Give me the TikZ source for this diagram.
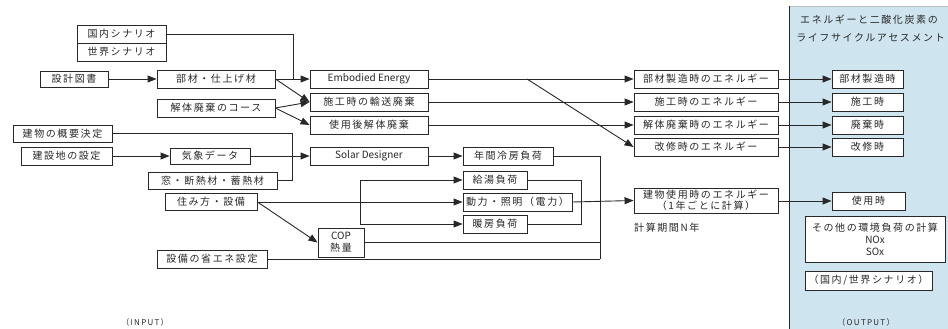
\documentclass[tikz,border=0pt]{standalone}
\usepackage{fontspec}
\setmainfont[LetterSpace=16]{Noto Sans CJK JP}
\newfontfamily\lat{Noto Sans CJK JP}
\usetikzlibrary{arrows.meta}
\definecolor{panel}{RGB}{206,228,238}
\definecolor{ink}{RGB}{40,40,40}
\tikzset{
  x=1pt, y=-1pt,
  box/.style={draw=ink, line width=0.9pt, fill=white, inner sep=0pt,
    font=\fontsize{10}{11}\selectfont, text=ink},
  ln/.style={draw=ink, line width=0.9pt},
  arr/.style={ln, -{Triangle[length=9pt,width=7pt]}},
  lbl/.style={inner sep=0pt, text=ink, font=\fontsize{10}{11}\selectfont}
}
\begin{document}
\begin{tikzpicture}
\useasboundingbox (0,0) rectangle (948,329);
\fill[white] (0,0) rectangle (948,329);
% output panel
\fill[panel] (789,6) rectangle (948,329);
\draw[black!25, line width=0.5pt] (789,6) -- (948,6);
\draw[ink, line width=1pt] (789,6) -- (789,329);
\node[lbl, anchor=east, font=\fontsize{10}{12}\selectfont] (t1) at (938,20) {エネルギーと二酸化炭素の};
\node[lbl, anchor=east, font=\fontsize{10}{12}\selectfont] (t2) at (945,38) {ライフサイクルアセスメント};

% input boxes
\node[box, minimum width=89pt, minimum height=18pt] (kokunai) at (121.5,34) {国内シナリオ};
\node[box, minimum width=89pt, minimum height=18pt] (sekai) at (121.5,52) {世界シナリオ};
\node[box, minimum width=68pt, minimum height=16pt] (sekkei) at (74,79) {設計図書};
\node[box, minimum width=118pt, minimum height=18pt] (buzai) at (216,79) {部材・仕上げ材};
\node[box, minimum width=118pt, minimum height=18pt] (kaitai) at (216,108) {解体廃棄のコース};
\node[box, minimum width=99pt, minimum height=17pt] (gaiyo) at (62.5,133.5) {建物の概要決定};
\node[box, minimum width=91pt, minimum height=18pt] (kensetsu) at (66.5,156) {建設地の設定};
\node[box, minimum width=80pt, minimum height=16pt] (kisho) at (210,156) {気象データ};
\node[box, minimum width=129pt, minimum height=17pt] (mado) at (212.5,180.5) {窓・断熱材・蓄熱材};
\node[box, minimum width=92pt, minimum height=17pt] (sumi) at (211,202) {住み方・設備};
\node[box, minimum width=110pt, minimum height=18pt] (shoene) at (212,259) {設備の省エネ設定};

% middle boxes
\node[box, minimum width=118pt, minimum height=18pt] (ee) at (369,79) {\lat Embodied Energy};
\node[box, minimum width=118pt, minimum height=18pt] (yuso) at (369,102) {施工時の輸送廃棄};
\node[box, minimum width=118pt, minimum height=18pt] (shiyogo) at (369,125) {使用後解体廃棄};
\node[box, minimum width=118pt, minimum height=18pt] (solar) at (369,156) {\lat Solar Designer};
\node[box, minimum width=90pt, minimum height=18pt] (reibo) at (508,156) {年間冷房負荷};
\node[box, minimum width=64pt, minimum height=18pt] (kyuto) at (495,180) {給湯負荷};
\node[box, minimum width=109pt, minimum height=18pt] (doryoku) at (517.5,202) {動力・照明（電力）};
\node[box, minimum width=64pt, minimum height=18pt] (danbo) at (495,224) {暖房負荷};
\node[box, minimum width=46pt, minimum height=29pt, align=center, font=\fontsize{10}{12}\selectfont] (cop) at (341,242.5) {\lat COP\\熱量};

% energy boxes
\node[box, minimum width=144pt, minimum height=18pt] (e1) at (706,79) {部材製造時のエネルギー};
\node[box, minimum width=144pt, minimum height=18pt] (e2) at (706,102) {施工時のエネルギー};
\node[box, minimum width=144pt, minimum height=18pt] (e3) at (706,125) {解体廃棄時のエネルギー};
\node[box, minimum width=144pt, minimum height=18pt] (e4) at (706,147) {改修時のエネルギー};
\node[box, minimum width=144pt, minimum height=25pt, align=center, font=\fontsize{10}{11}\selectfont] (e5) at (706,200.5) {建物使用時のエネルギー\\（1年ごとに計算）};
\node[lbl, anchor=west] (kikan) at (634,228) {計算期間N年};

% output boxes
\node[box, minimum width=71pt, minimum height=18pt] (o1) at (867.5,79) {部材製造時};
\node[box, minimum width=71pt, minimum height=18pt] (o2) at (867.5,102) {施工時};
\node[box, minimum width=71pt, minimum height=18pt] (o3) at (867.5,125) {廃棄時};
\node[box, minimum width=71pt, minimum height=18pt] (o4) at (867.5,147) {改修時};
\node[box, minimum width=73pt, minimum height=18pt] (o5) at (868.5,201) {使用時};
\node[box, minimum width=140pt, minimum height=46pt, align=center, font=\fontsize{10}{12}\selectfont] (other) at (875,239) {その他の環境負荷の計算\\{\lat NOx}\\{\lat SOx}};
\node[box, minimum width=127pt, minimum height=19pt] (scen2) at (868.5,280.5) {（国内/世界シナリオ）};

\node[lbl, font=\fontsize{8}{9}\selectfont] (inp) at (145,322) {（INPUT）};
\node[lbl, font=\fontsize{8}{9}\selectfont] (outp) at (866,322) {（OUTPUT）};

% junction coordinates
\coordinate (j1) at (293,79);
\coordinate (j2) at (292,180.5);
\coordinate (j3) at (600,259);
\coordinate (b1) at (360,180);
\coordinate (b2) at (360,224);
\coordinate (c1) at (581,180);
\coordinate (c2) at (581,224);
\coordinate (d1) at (527,79);

% connectors
\draw[ln] (kokunai.east) -| (j1);
\draw[arr] (sekkei) -- (buzai);
\draw[arr] (buzai.east) -- (ee.west);
\draw[arr] (buzai.east) -- (yuso.west);
\draw[arr] (kaitai.east) -- (yuso.west);
\draw[arr] (kaitai.east) -- (shiyogo.west);
\draw[ln] (gaiyo.east) -| (j2) -- (mado.east);
\draw[arr] (kensetsu) -- (kisho);
\draw[arr] (kisho) -- (solar);
\draw[arr] (solar) -- (reibo);
\draw[ln] (reibo.east) -| (j3);
\draw[ln] (shoene.east) -- (j3);
\draw[ln] (cop.east) -- (cop.east -| j3);
\draw[arr] (sumi.east) -- (doryoku.west);
\draw[arr] (sumi.east) -- (cop.west);
\draw[ln] (b1) -- (b2);
\draw[arr] (b1) -- (kyuto.west);
\draw[arr] (b2) -- (danbo.west);
\draw[ln] (kyuto.east) -- (c1) -- (c2) -- (danbo.east);
\draw[arr] (doryoku.east) -- (e5.west);
\draw[arr] (ee) -- (e1);
\draw[arr] (yuso) -- (e2);
\draw[arr] (shiyogo) -- (e3);
\draw[arr] (d1) -- (e4.west);
\draw[arr] (e1) -- (o1);
\draw[arr] (e2) -- (o2);
\draw[arr] (e3) -- (o3);
\draw[arr] (e4) -- (o4);
\draw[arr] (e5.east |- o5) -- (o5);
\end{tikzpicture}
\end{document}
